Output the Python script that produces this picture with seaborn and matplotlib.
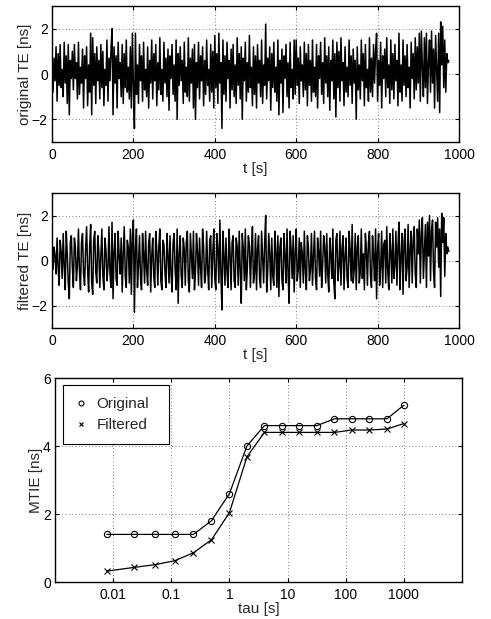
import numpy as np
import pandas as pd
import matplotlib
matplotlib.use("Agg")
import matplotlib.pyplot as plt
import seaborn as sns
from matplotlib.lines import Line2D

# ---------------- data ----------------
dt = 2.5  # sampling step [s]
original_te = [
    0.3,-0.8,0.7,-0.3,1.2,-1.2,0.9,-0.5,1.3,-0.6,0.2,-1.0,1.4,-0.4,0.8,-1.3,1.3,-1.8,0.6,-0.2,
    1.0,-0.7,1.3,-0.2,0.5,-1.1,1.4,-0.9,0.3,-0.4,1.1,-1.5,0.8,-0.2,1.2,-1.4,0.4,-0.8,1.8,-1.8,
    1.6,-0.5,0.9,-1.3,1.2,-0.3,0.6,-1.1,1.3,-0.6,1.0,-1.4,0.2,-0.5,1.5,-1.2,0.7,-0.3,1.1,2.0,
    -1.8,1.2,-0.4,0.8,-1.5,1.4,-0.2,0.5,-1.0,1.3,-1.3,0.9,-0.6,1.5,-0.8,0.3,-1.1,1.2,-1.5,1.8,
    -0.6,-2.4,1.8,-0.9,0.4,-1.3,1.3,-0.3,0.8,-1.2,1.4,-0.7,0.2,-1.0,1.2,-1.5,0.6,-0.4,1.5,-1.1,
    0.9,-0.3,1.3,-1.4,0.5,-0.7,1.6,-0.9,0.2,-1.2,1.4,-0.4,0.7,-1.0,1.1,-1.6,0.8,-0.2,1.3,-0.9,
    0.4,-1.2,1.5,-2.0,0.9,-0.5,1.2,-0.3,0.6,-1.3,1.4,-0.8,0.3,-1.0,1.6,-1.2,0.7,-0.4,1.1,-1.5,
    1.3,-2.0,0.5,-0.6,1.4,-1.1,0.8,-0.3,1.2,-1.4,0.6,-0.9,1.5,-0.5,0.2,-1.2,1.3,-0.8,1.0,-1.5,
    1.7,-0.6,0.9,-1.3,1.8,-0.4,0.5,-2.4,1.5,-0.9,0.8,-1.2,1.4,-0.2,0.6,-1.5,1.1,-0.7,1.3,-1.0,
    0.4,-1.3,1.6,-0.5,0.9,-1.1,1.2,-2.0,0.7,-0.3,1.4,-1.2,0.5,-0.8,1.7,-0.6,0.3,-1.4,1.2,-0.9,
    0.8,-1.5,1.3,-0.4,0.6,-1.0,1.5,-1.3,0.4,-0.5,2.2,-1.1,0.7,-0.3,1.2,-1.6,0.9,-0.6,1.4,-0.8,
    0.3,-1.2,1.5,-1.8,0.6,-0.4,1.1,-1.7,0.8,-0.2,1.3,-1.0,0.5,-1.5,1.4,-0.6,0.2,-1.1,1.5,-0.9,
    1.5,-0.5,0.7,-1.3,1.2,-0.3,0.4,-1.0,1.4,-0.7,0.9,-1.4,1.3,-0.5,0.6,-1.2,1.5,-0.8,0.3,-1.0,
    1.3,-1.5,0.8,-0.2,1.4,-0.9,0.5,-1.3,1.6,-0.4,0.8,-1.0,1.2,-1.6,0.6,-0.3,1.5,-1.1,0.9,-1.9,
    1.4,-0.6,1.0,-1.2,1.6,-0.3,0.5,-1.4,1.2,-0.8,0.3,-1.0,1.5,-0.5,0.8,-1.3,1.1,-0.4,0.6,-2.0,
    1.2,-0.7,0.4,-1.1,1.5,-0.3,0.9,-1.4,1.3,-0.6,0.2,-1.2,1.6,-0.8,0.7,-1.0,1.3,-0.4,1.0,1.8,
    -1.2,0.6,-0.5,1.4,-1.5,0.8,-0.2,1.1,-1.0,1.6,-0.6,0.4,-1.3,1.5,-0.7,0.9,-1.1,1.3,-0.3,0.6,
    -1.4,1.8,-0.8,0.4,-1.2,1.5,-0.5,0.8,-1.0,1.3,-0.6,0.3,-1.5,1.4,-0.2,0.9,-1.1,1.6,-0.7,1.2,
    -0.4,1.8,-1.2,1.9,0.3,-1.0,1.6,-0.6,1.8,-1.3,0.5,1.5,-0.8,1.9,-0.4,1.1,-1.5,1.7,0.2,-1.2,
    1.8,-1.7,2.3,0.4,2.1,-0.6,1.5,-0.8,0.9,0.5,0.6,
]
filtered_te = [
    0.1,-0.4,0.6,0.2,-0.6,1.0,-0.3,-1.1,0.9,0.4,-0.8,1.2,-0.2,-1.3,1.3,0.3,-1.0,-1.7,0.8,1.1,
    -0.3,-1.2,1.0,0.6,-0.9,-0.2,1.4,-0.5,-1.3,0.8,1.2,-0.6,-1.1,0.5,1.5,-0.4,-1.4,0.6,1.6,-1.0,
    -1.5,0.9,1.3,-0.5,-1.0,1.1,0.4,-1.2,0.2,1.4,-0.7,-1.3,1.0,0.5,-0.9,-0.3,1.5,-0.6,-1.2,1.7,
    -1.7,0.4,1.2,-0.8,-1.1,1.3,0.2,-0.6,1.0,-1.4,0.3,1.5,-0.7,-1.2,0.9,0.6,-1.0,1.4,-1.5,1.1,
    1.8,-2.3,0.5,1.4,-1.2,-0.2,1.1,-0.8,-1.3,1.2,0.3,-1.0,1.3,-0.4,-1.1,0.8,1.2,-1.4,0.2,1.0,
    -0.7,-1.2,1.3,0.4,-1.1,0.6,1.4,-0.9,-1.3,0.9,0.7,-0.5,-1.2,1.2,0.2,-1.0,1.1,-0.6,-1.4,0.8,
    1.2,-0.4,-1.3,1.4,-1.9,0.3,1.1,-0.7,-1.2,1.0,0.5,-1.1,0.8,1.3,-0.9,-1.4,1.2,0.2,-0.8,1.3,
    -1.3,-0.5,1.2,0.4,-1.1,1.0,-0.3,-1.2,1.4,0.6,-1.0,-0.6,1.3,-0.4,-1.3,0.9,1.1,-1.2,0.3,1.4,
    -0.8,-1.3,1.2,0.5,-1.0,1.8,-0.6,-2.2,1.3,0.2,-1.1,1.0,-0.5,-1.2,1.4,0.3,-1.3,0.8,1.1,-0.9,
    -1.2,1.0,0.6,-1.1,1.3,-0.4,-1.9,1.2,0.5,-0.9,1.4,-1.3,-0.3,1.1,0.7,-1.2,0.4,1.5,-1.0,-0.6,
    1.2,-1.3,0.5,1.1,-0.8,-1.2,1.3,0.2,-1.0,0.8,2.0,-1.4,-0.5,1.2,0.3,-1.3,1.0,-0.7,-1.1,1.3,
    0.4,-1.2,1.1,-1.6,0.6,1.0,-0.9,-1.3,1.2,0.2,-1.0,1.4,-0.6,-1.9,1.3,0.5,-0.8,1.1,-1.4,0.3,
    1.4,-0.9,-0.4,1.0,-1.2,0.8,0.3,-1.0,1.3,-0.5,-1.3,1.1,0.6,-0.9,-0.4,1.2,-1.1,0.2,1.3,-0.8,
    -1.3,1.0,0.4,-0.7,1.3,-1.2,-0.2,1.1,0.6,-1.0,1.2,-0.6,-1.4,1.0,0.3,-0.8,1.4,-1.0,-1.7,0.9,
    1.2,-0.9,-0.3,1.3,-1.1,0.5,1.1,-1.3,0.2,1.0,-0.8,-1.2,1.3,0.4,-0.9,1.6,-1.0,-0.4,1.2,-1.3,
    0.6,1.1,-1.0,-0.5,1.4,-0.8,0.3,-1.3,1.2,0.5,-1.1,0.8,1.3,-0.7,-1.2,1.1,0.2,-0.9,1.4,-1.7,
    0.5,1.2,-1.1,-0.3,1.3,-1.2,0.7,0.9,-1.0,1.5,-0.5,-1.3,1.2,0.4,-1.0,1.4,-0.8,-0.2,1.3,-1.1,
    0.6,1.7,-1.3,0.2,1.2,-1.5,0.8,1.4,-0.9,-0.3,1.6,-1.2,0.5,1.3,-1.0,0.9,1.5,-0.6,-1.2,1.4,
    0.3,1.8,-1.0,1.2,1.9,-0.8,0.4,1.6,-1.2,1.7,0.2,2.0,-0.9,1.3,1.8,-0.5,-1.2,1.7,0.6,1.9,
    -0.3,1.4,-1.6,2.1,0.8,1.9,-0.7,1.2,0.3,0.6,0.4,
]
tau = [0.0078, 0.023, 0.053, 0.117, 0.24, 0.49, 1.0, 2.0, 4.0, 8.0, 16.0, 32.0,
       64.0, 128.0, 256.0, 512.0, 1000.0]
mtie_original = [1.4, 1.4, 1.4, 1.4, 1.4, 1.8, 2.6, 4.0, 4.6, 4.6, 4.6, 4.6,
                 4.8, 4.8, 4.8, 4.8, 5.2]
mtie_filtered = [0.32, 0.43, 0.51, 0.63, 0.86, 1.24, 2.04, 3.68, 4.4, 4.4, 4.4, 4.4,
                 4.4, 4.47, 4.47, 4.5, 4.66]
t_ticks = [0, 200, 400, 600, 800, 1000]
te_ticks = [-2, 0, 2]
te_ticklabels = ["\u22122", "0", "2"]
tau_ticks = [0.01, 0.1, 1, 10, 100, 1000]
tau_ticklabels = ["0.01", "0.1", "1", "10", "100", "1000"]
mtie_ticks = [0, 2, 4, 6]

# ---------------- style ----------------
sns.set_style("ticks")
plt.rcParams['font.family'] = ['Liberation Sans', 'DejaVu Sans']
plt.rcParams['font.size'] = 10
plt.rcParams['axes.labelsize'] = 11
plt.rcParams['xtick.labelsize'] = 10
plt.rcParams['ytick.labelsize'] = 10
plt.rcParams['axes.linewidth'] = 1.0
plt.rcParams['xtick.direction'] = 'in'
plt.rcParams['ytick.direction'] = 'in'
plt.rcParams['xtick.major.size'] = 3
plt.rcParams['ytick.major.size'] = 3
plt.rcParams['xtick.minor.size'] = 0
plt.rcParams['ytick.minor.size'] = 0
plt.rcParams['xtick.top'] = True
plt.rcParams['ytick.right'] = True
plt.rcParams['xtick.color'] = 'black'
plt.rcParams['ytick.color'] = 'black'
plt.rcParams['axes.edgecolor'] = 'black'
plt.rcParams['xtick.major.pad'] = 4
plt.rcParams['ytick.major.pad'] = 3

fig = plt.figure(figsize=(4.91, 6.19), dpi=100)
W, H = 491.0, 619.0
ax1 = fig.add_axes([52 / W, (H - 142) / H, 407 / W, 136 / H])
ax2 = fig.add_axes([52 / W, (H - 328) / H, 407 / W, 135 / H])
ax3 = fig.add_axes([55 / W, (H - 582) / H, 407 / W, 204 / H])

grid_kw = dict(color='#555555', linestyle=(0, (1, 3)), linewidth=0.6)

df_te = pd.DataFrame({
    "t": np.arange(len(original_te)) * dt,
    "original": original_te,
    "filtered": filtered_te,
})

for ax, col, lab in [(ax1, "original", "original TE [ns]"),
                     (ax2, "filtered", "filtered TE [ns]")]:
    sns.lineplot(data=df_te, x="t", y=col, ax=ax, color='black', linewidth=1.1,
                 estimator=None, sort=False)
    ax.set_xlim(0, 1000)
    ax.set_ylim(-3, 3)
    ax.set_xticks(t_ticks)
    ax.set_yticks(te_ticks)
    ax.set_yticklabels(te_ticklabels)
    ax.grid(True, **grid_kw)
    ax.set_axisbelow(True)
    ax.set_xlabel("t [s]", labelpad=0)
    ax.set_ylabel(lab, labelpad=0)
    for s in ax.spines.values():
        s.set_visible(True)

df_mtie = pd.DataFrame({"tau": tau, "Original": mtie_original, "Filtered": mtie_filtered})
sns.lineplot(data=df_mtie, x="tau", y="Original", ax=ax3, color='black', linewidth=0.9,
             marker='o', markersize=4.5, markerfacecolor='none', markeredgecolor='black',
             markeredgewidth=0.8)
sns.lineplot(data=df_mtie, x="tau", y="Filtered", ax=ax3, color='black', linewidth=0.9,
             marker='x', markersize=4.5, markeredgecolor='black', markeredgewidth=0.8)
ax3.set_xscale('log')
ax3.set_xlim(1e-3, 1e4)
ax3.set_ylim(0, 6)
ax3.set_xticks(tau_ticks)
ax3.set_xticklabels(tau_ticklabels)
ax3.minorticks_off()
ax3.set_yticks(mtie_ticks)
ax3.grid(True, **grid_kw)
ax3.set_axisbelow(True)
ax3.set_xlabel("tau [s]", labelpad=0)
ax3.set_ylabel("MTIE [ns]", labelpad=0)
for s in ax3.spines.values():
    s.set_visible(True)

handles = [
    Line2D([], [], linestyle='none', marker='o', markersize=3.5, markerfacecolor='none',
           markeredgecolor='black', markeredgewidth=0.8),
    Line2D([], [], linestyle='none', marker='x', markersize=3.5, markeredgecolor='black',
           markeredgewidth=0.8),
]
leg = ax3.legend(handles, ["Original", "Filtered"], loc='upper left',
                 bbox_to_anchor=(8 / 407, 1 - 9 / 204, 106 / 407, 0.01), mode='expand',
                 frameon=True, fancybox=False, edgecolor='black', framealpha=1,
                 fontsize=11, handlelength=0.8, handletextpad=0.6, borderpad=0.8,
                 labelspacing=0.45, borderaxespad=0)
leg.get_frame().set_linewidth(0.8)

fig.savefig("out.png", dpi=100)
